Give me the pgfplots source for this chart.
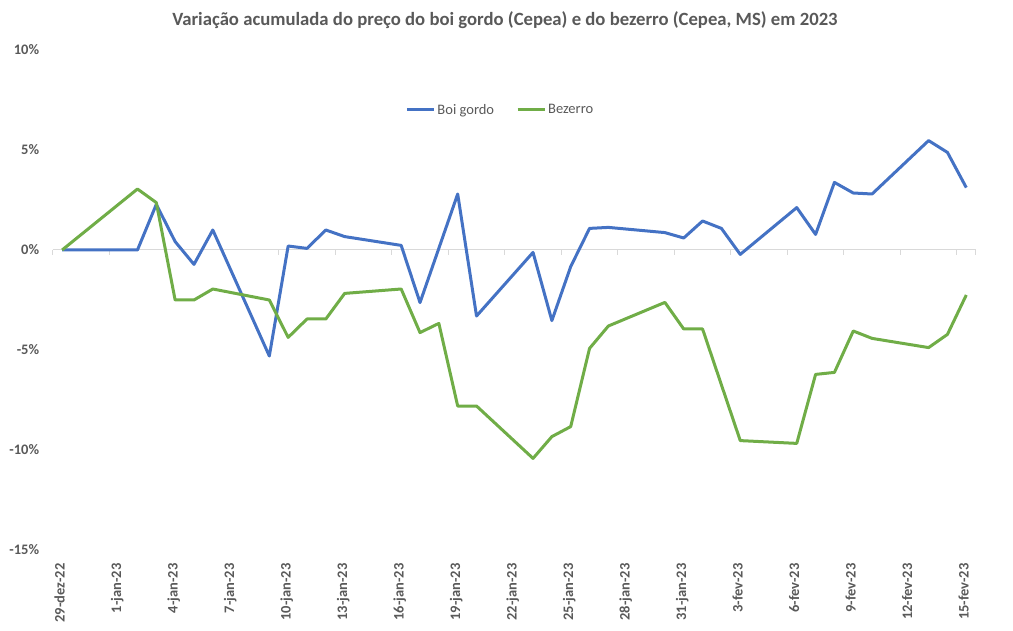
\documentclass[border=0pt]{standalone}
\usepackage{pgfplots}
\pgfplotsset{compat=1.18}
\usepackage{fontspec}
\setmainfont{Carlito}
\definecolor{txtgray}{HTML}{595959}
\definecolor{boi}{HTML}{4472C4}
\definecolor{bez}{HTML}{70AD47}
\definecolor{zgray}{HTML}{D9D9D9}
\begin{document}
\begin{tikzpicture}
\useasboundingbox (0,0) rectangle (1013pt,630pt);
\begin{axis}[
  at={(52.7pt,80pt)}, anchor=south west,
  scale only axis, width=923pt, height=500pt,
  xmin=-0.5, xmax=48.5, ymin=-15, ymax=10,
  axis line style={draw=none},
  tick style={draw=none},
  xtick={0,3,...,48},
  xticklabels={29-dez-22,1-jan-23,4-jan-23,7-jan-23,10-jan-23,13-jan-23,16-jan-23,19-jan-23,22-jan-23,25-jan-23,28-jan-23,31-jan-23,3-fev-23,6-fev-23,9-fev-23,12-fev-23,15-fev-23},
  xticklabel shift=10pt,
  xticklabel style={rotate=90, anchor=mid east, font=\bfseries\fontsize{14.5}{16}\selectfont, text=txtgray},
  ytick={-15,-10,-5,0,5,10},
  yticklabels={-15\%,-10\%,-5\%,0\%,5\%,10\%},
  yticklabel style={font=\bfseries\fontsize{14.5}{16}\selectfont, text=txtgray, xshift=-10pt},
  title={Variação acumulada do preço do boi gordo (Cepea) e do bezerro (Cepea, MS) em 2023},
  title style={at={(axis description cs:0.49,1)}, anchor=center, yshift=24pt, font=\bfseries\fontsize{18.7}{21}\selectfont, text=txtgray},
  legend style={at={(axis description cs:0.485,0.88)}, anchor=center, draw=none, fill=none, legend columns=2, font=\fontsize{14.5}{16}\selectfont, text=txtgray, /tikz/every even column/.append style={column sep=20pt}},
  legend image code/.code={\draw[#1] (0pt,0pt) -- (27pt,0pt);},
  clip=false,
]
\draw[zgray, line width=1pt] (axis cs:-0.5,0) -- (axis cs:48.5,0);
\draw[zgray, line width=1pt]
  (axis cs:-0.5,0) -- (axis cs:-0.5,-0.25) (axis cs:2.5,0) -- (axis cs:2.5,-0.25)
  (axis cs:5.5,0) -- (axis cs:5.5,-0.25) (axis cs:8.5,0) -- (axis cs:8.5,-0.25)
  (axis cs:11.5,0) -- (axis cs:11.5,-0.25) (axis cs:14.5,0) -- (axis cs:14.5,-0.25)
  (axis cs:17.5,0) -- (axis cs:17.5,-0.25) (axis cs:20.5,0) -- (axis cs:20.5,-0.25)
  (axis cs:23.5,0) -- (axis cs:23.5,-0.25) (axis cs:26.5,0) -- (axis cs:26.5,-0.25)
  (axis cs:29.5,0) -- (axis cs:29.5,-0.25) (axis cs:32.5,0) -- (axis cs:32.5,-0.25)
  (axis cs:35.5,0) -- (axis cs:35.5,-0.25) (axis cs:38.5,0) -- (axis cs:38.5,-0.25)
  (axis cs:41.5,0) -- (axis cs:41.5,-0.25) (axis cs:44.5,0) -- (axis cs:44.5,-0.25)
  (axis cs:47.5,0) -- (axis cs:47.5,-0.25) (axis cs:48.5,0) -- (axis cs:48.5,-0.25);
\addplot[boi, line width=3pt, line join=round] table {
0 0
4 0
5 2.28
6 0.42
7 -0.72
8 1.0
11 -5.3
12 0.2
13 0.08
14 1.0
15 0.67
18 0.23
19 -2.63
21 2.8
22 -3.3
25 -0.12
26 -3.53
27 -0.83
28 1.08
29 1.13
32 0.87
33 0.6
34 1.45
35 1.08
36 -0.22
39 2.12
40 0.78
41 3.38
42 2.85
43 2.8
46 5.47
47 4.88
48 3.12
};
\addlegendentry{Boi gordo}
\addplot[bez, line width=3pt, line join=round] table {
0 0
4 3.05
5 2.37
6 -2.5
7 -2.5
8 -1.95
11 -2.5
12 -4.37
13 -3.45
14 -3.45
15 -2.17
18 -1.95
19 -4.13
20 -3.67
21 -7.8
22 -7.8
25 -10.42
26 -9.33
27 -8.83
28 -4.92
29 -3.8
32 -2.62
33 -3.95
34 -3.95
36 -9.53
39 -9.67
40 -6.22
41 -6.12
42 -4.05
43 -4.42
46 -4.88
47 -4.22
48 -2.25
};
\addlegendentry{Bezerro}
\end{axis}
\end{tikzpicture}
\end{document}
